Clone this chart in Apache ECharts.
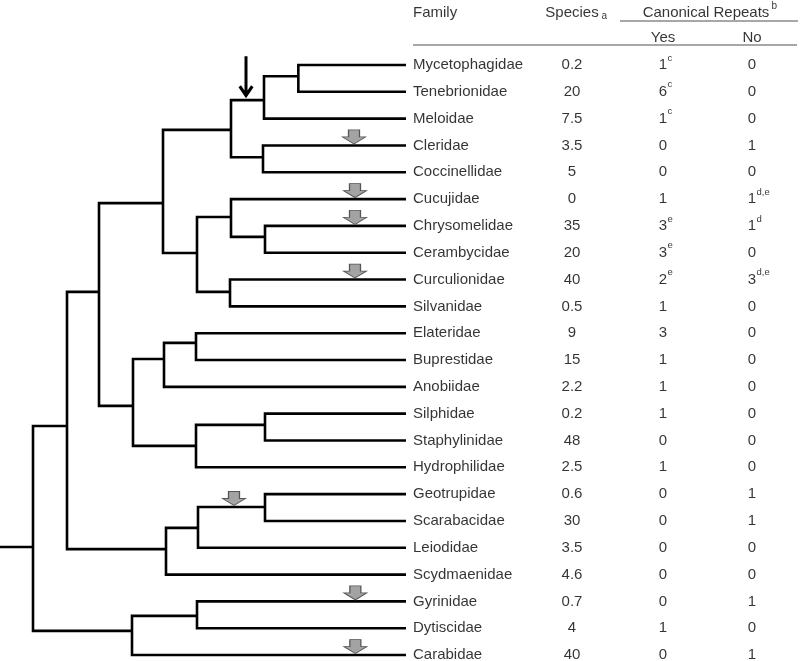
<!DOCTYPE html>
<html><head><meta charset="utf-8">
<script src="https://cdn.jsdelivr.net/npm/echarts@6/dist/echarts.min.js"></script>
<style>html,body{margin:0;padding:0;background:#fff}#c{width:800px;height:661px}</style>
</head><body><div id="c"></div>
<script>
// ---------------- DATA ----------------
const families = ['Mycetophagidae','Tenebrionidae','Meloidae','Cleridae','Coccinellidae','Cucujidae','Chrysomelidae','Cerambycidae','Curculionidae','Silvanidae','Elateridae','Buprestidae','Anobiidae','Silphidae','Staphylinidae','Hydrophilidae','Geotrupidae','Scarabacidae','Leiodidae','Scydmaenidae','Gyrinidae','Dytiscidae','Carabidae'];
const species = ['0.2','20','7.5','3.5','5','0','35','20','40','0.5','9','15','2.2','0.2','48','2.5','0.6','30','3.5','4.6','0.7','4','40'];
const repeatsYes = ['1','6','1','0','0','1','3','3','2','1','3','1','1','1','0','1','0','0','0','0','0','1','0'];
const repeatsYesNote = ['c','c','c','','','','e','e','e','','','','','','','','','','','','','',''];
const repeatsNo = ['0','0','0','1','0','1','1','0','3','0','0','0','0','0','0','0','1','1','0','0','1','0','1'];
const repeatsNoNote = ['','','','','','d,e','d','','d,e','','','','','','','','','','','','','',''];

// tree: internal nodes (depth along the x scale, row position, children)
const leafDepth = 12.18;
const nodeNames    = ['J','H','I','F','M','K','L','G','D','P','N','Q','O','E','B','S','R','C','A','U','T','root'];
const nodeDepth    = [8.95,7.92,7.89,6.93,7.95,6.93,6.9,5.91,4.89,5.88,4.92,7.95,5.88,3.99,2.97,7.95,5.94,4.98,2.01,5.91,3.96,0.99];
const nodeRow      = [0.42,1.31,3.44,2.42,6.41,5.67,8.46,7.01,5.15,10.36,10.96,13.42,14.2,12.71,8.46,16.48,17.26,18.05,13.46,20.54,21.1,17.97];
const nodeChildren = [
  ['Mycetophagidae','Tenebrionidae'],['J','Meloidae'],['Cleridae','Coccinellidae'],['H','I'],
  ['Chrysomelidae','Cerambycidae'],['Cucujidae','M'],['Curculionidae','Silvanidae'],['K','L'],['F','G'],
  ['Elateridae','Buprestidae'],['P','Anobiidae'],['Silphidae','Staphylinidae'],['Q','Hydrophilidae'],['N','O'],['D','E'],
  ['Geotrupidae','Scarabacidae'],['S','Leiodidae'],['R','Scydmaenidae'],['B','C'],
  ['Gyrinidae','Dytiscidae'],['U','Carabidae'],['A','T']
];
// markers on branches: [branch (leaf or node), depth]
const lossArrows = [['Cleridae',10.62],['Cucujidae',10.65],['Chrysomelidae',10.65],['Curculionidae',10.65],['S',7.02],['Gyrinidae',10.66],['Carabidae',10.66]];
const gainArrows = [['H',7.38]];

// header texts
const headerFamily = 'Family', headerSpecies = 'Species', headerSpeciesNote = 'a';
const headerRepeats = 'Canonical Repeats', headerRepeatsNote = 'b';
const headerYes = 'Yes', headerNo = 'No';

// ---------------- LAYOUT ----------------
const COL = {family: 12.39, species: 17.16, yes: 19.89, no: 22.56};
const HDR = {row1: -1.94, row2: -1.01, ruleTop: -1.64, ruleBottom: -0.746};
const FONT = '"Liberation Sans", Arial, sans-serif';

// ---------------- BUILD ----------------
const pos = {};
families.forEach((f, i) => pos[f] = {d: leafDepth, r: i});
nodeNames.forEach((n, i) => pos[n] = {d: nodeDepth[i], r: nodeRow[i]});

const branchPolys = [];
nodeNames.forEach((n, i) => {
  const a = pos[nodeChildren[i][0]], b = pos[nodeChildren[i][1]], d = nodeDepth[i];
  branchPolys.push([a.d, a.r, d, a.r, d, b.r, b.d, b.r]);
});
const root = pos['root'];
branchPolys.push([0, root.r, root.d, root.r, root.d, root.r, root.d, root.r]);

const ruleLines = [
  [18.6, HDR.ruleTop, 23.94, HDR.ruleTop],
  [12.39, HDR.ruleBottom, 23.91, HDR.ruleBottom]
];

const txt = (size) => ({fontFamily: FONT, fontSize: size, color: '#000'});

const series = [
  {
    type: 'custom', coordinateSystem: 'cartesian2d', silent: true,
    encode: {x: [0, 2, 4, 6], y: [1, 3, 5, 7]},
    data: branchPolys,
    renderItem: (params, api) => {
      const pts = [];
      for (let k = 0; k < 4; k++) pts.push(api.coord([api.value(2 * k), api.value(2 * k + 1)]));
      return {type: 'polyline', shape: {points: pts}, style: {stroke: '#000', lineWidth: 2.6, fill: null, lineJoin: 'miter'}};
    }
  },
  {
    type: 'custom', coordinateSystem: 'cartesian2d', silent: true,
    encode: {x: [0, 2], y: [1, 3]},
    data: ruleLines,
    renderItem: (params, api) => {
      const p1 = api.coord([api.value(0), api.value(1)]), p2 = api.coord([api.value(2), api.value(3)]);
      return {type: 'line', shape: {x1: p1[0], y1: p1[1], x2: p2[0], y2: p2[1]}, style: {stroke: '#8a8a8a', lineWidth: 1.5}};
    }
  },
  {
    type: 'scatter', silent: true, clip: false,
    data: lossArrows.map(a => [a[1], pos[a[0]].r]),
    symbol: 'path://M6,0 L17,0 L17,7 L23,7 L11.5,14 L0,7 L6,7 Z',
    symbolSize: [23, 14], symbolOffset: [0, -8.5],
    itemStyle: {color: '#a3a3a3', borderColor: '#555', borderWidth: 1, opacity: 1}
  },
  {
    type: 'scatter', silent: true, clip: false,
    data: gainArrows.map(a => [a[1], pos[a[0]].r]),
    symbol: 'path://M6.4,0 L9.6,0 L9.6,34.5 L13.4,29.3 L16,31.2 L8,42.2 L0,31.2 L2.6,29.3 L6.4,34.5 Z',
    symbolSize: [15, 42], symbolOffset: [0, -23],
    itemStyle: {color: '#000', opacity: 1}
  },
  // family names
  {
    type: 'scatter', silent: true, symbolSize: 0, clip: false,
    data: families.map((f, i) => [COL.family, i, f]),
    label: {show: true, position: 'right', distance: 0, formatter: p => p.data[2], ...txt(15)}
  },
  // species
  {
    type: 'scatter', silent: true, symbolSize: 0, clip: false,
    data: species.map((s, i) => [COL.species, i, s]),
    label: {show: true, position: 'inside', formatter: p => p.data[2], ...txt(15)}
  },
  // repeats yes / no
  {
    type: 'scatter', silent: true, symbolSize: 0, clip: false,
    data: repeatsYes.map((s, i) => [COL.yes, i, s]).concat(repeatsNo.map((s, i) => [COL.no, i, s])),
    label: {show: true, position: 'inside', formatter: p => p.data[2], ...txt(15)}
  },
  // superscript notes
  {
    type: 'scatter', silent: true, symbolSize: 0, clip: false,
    data: repeatsYesNote.map((s, i) => [COL.yes, i, s]).concat(repeatsNoNote.map((s, i) => [COL.no, i, s])).filter(d => d[2]),
    label: {show: true, position: 'right', distance: 4.5, offset: [0, -7], formatter: p => p.data[2], ...txt(9.5)}
  },
  // header
  {
    type: 'scatter', silent: true, symbolSize: 0, clip: false,
    data: [[COL.family, HDR.row1, headerFamily, 'right']],
    label: {show: true, position: 'right', distance: 0, formatter: p => p.data[2], ...txt(15)}
  },
  {
    type: 'scatter', silent: true, symbolSize: 0, clip: false,
    data: [[COL.species, HDR.row1, headerSpecies], [21.18, HDR.row1, headerRepeats], [COL.yes, HDR.row2, headerYes], [COL.no, HDR.row2, headerNo]],
    label: {show: true, position: 'inside', formatter: p => p.data[2], ...txt(15)}
  },
  {
    type: 'scatter', silent: true, symbolSize: 0, clip: false,
    data: [[COL.species, HDR.row1, headerSpeciesNote]],
    label: {show: true, position: 'right', distance: 29.5, offset: [0, 3], formatter: p => p.data[2], ...txt(10)}
  },
  {
    type: 'scatter', silent: true, symbolSize: 0, clip: false,
    data: [[21.18, HDR.row1, headerRepeatsNote]],
    label: {show: true, position: 'right', distance: 65.5, offset: [0, -7], formatter: p => p.data[2], ...txt(10)}
  }
];

const chart = echarts.init(document.getElementById('c'), null, {renderer: 'canvas'});
chart.setOption({
  animation: false,
  backgroundColor: '#fff',
  grid: {left: 0, right: 0, top: 0, bottom: 0},
  xAxis: {type: 'value', min: 0, max: 24, show: false},
  yAxis: {type: 'value', min: -65 / 26.82, max: 596 / 26.82, inverse: true, show: false},
  series: series
});
</script></body></html>
